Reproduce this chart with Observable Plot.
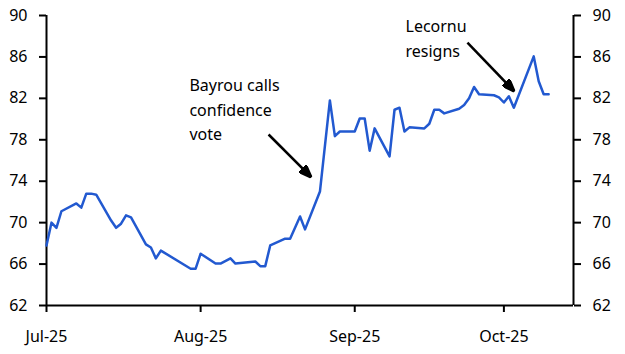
<!DOCTYPE html>
<html><head><meta charset="utf-8">
<script src="https://cdn.jsdelivr.net/npm/d3@7"></script>
<script src="https://cdn.jsdelivr.net/npm/@observablehq/plot@0.6"></script>
<style>
html,body{margin:0;padding:0;background:#fff;}
body{font-family:"Noto Sans",sans-serif;}
</style></head><body><div id="chart"></div>
<script>
// Series (business days)
const dates = [
  "2025-07-01","2025-07-02","2025-07-03","2025-07-04","2025-07-07","2025-07-08","2025-07-09","2025-07-10","2025-07-11",
  "2025-07-14","2025-07-15","2025-07-16","2025-07-17","2025-07-18","2025-07-21","2025-07-22","2025-07-23","2025-07-24",
  "2025-07-30","2025-07-31","2025-08-01","2025-08-04","2025-08-05","2025-08-07","2025-08-08","2025-08-12","2025-08-13",
  "2025-08-14","2025-08-15","2025-08-18","2025-08-19","2025-08-21","2025-08-22","2025-08-25","2025-08-27","2025-08-28",
  "2025-08-29","2025-09-01","2025-09-02","2025-09-03","2025-09-04","2025-09-05","2025-09-08","2025-09-09","2025-09-10",
  "2025-09-11","2025-09-12","2025-09-15","2025-09-16","2025-09-17","2025-09-18","2025-09-19","2025-09-22","2025-09-23",
  "2025-09-24","2025-09-25","2025-09-26","2025-09-29","2025-09-30","2025-10-01","2025-10-02","2025-10-03","2025-10-07",
  "2025-10-08","2025-10-09","2025-10-10"
];
const values = [
  67.8,70.0,69.5,71.1,71.85,71.45,72.8,72.8,72.7,
  70.2,69.5,69.9,70.7,70.5,67.9,67.6,66.55,67.3,
  65.55,65.55,67.0,66.05,66.05,66.55,66.05,66.25,65.8,
  65.8,67.8,68.45,68.45,70.6,69.35,73.0,81.8,78.35,
  78.8,78.8,80.05,80.05,76.95,79.1,76.4,80.9,81.1,
  78.8,79.2,79.1,79.55,80.9,80.9,80.55,81.0,81.35,
  82.0,83.1,82.4,82.3,82.1,81.6,82.2,81.1,86.05,
  83.65,82.4,82.4
];

// Axes
const yTicks = [62, 66, 70, 74, 78, 82, 86, 90];
const xTicks = ["2025-07-01", "2025-08-01", "2025-09-01", "2025-10-01"];
const xDomain = ["2025-07-01", "2025-10-15"];
const yDomain = [62, 90];

// Annotations
const noteText = ["Bayrou calls\nconfidence\nvote", "Lecornu\nresigns"];
const noteX = ["2025-07-29T18:00Z", "2025-09-11T05:00Z"];
const noteY = [84.34, 90.04];
const arrowX1 = ["2025-08-14T16:00Z", "2025-09-23T16:00Z"];
const arrowY1 = [78.51, 87.39];
const arrowX2 = ["2025-08-23T07:00Z", "2025-10-03T03:00Z"];
const arrowY2 = [74.36, 82.66];

const series = dates.map((d, i) => ({date: new Date(d), value: values[i]}));
const notes = noteText.map((t, i) => ({text: t, x: new Date(noteX[i]), y: noteY[i]}));
const arrows = arrowX1.map((d, i) => ({x1: new Date(d), y1: arrowY1[i], x2: new Date(arrowX2[i]), y2: arrowY2[i]}));

const arrowHead = (color) => d3.create("svg:marker")
  .attr("viewBox", "0 0 13 10")
  .attr("refX", 13).attr("refY", 5)
  .attr("markerWidth", 13).attr("markerHeight", 10)
  .attr("markerUnits", "userSpaceOnUse")
  .attr("orient", "auto")
  .call(m => m.append("path").attr("d", "M0,0L13,5L0,10Z").attr("fill", color))
  .node();

const fmt = d3.utcFormat("%b-%y");

const chart = Plot.plot({
  width: 625,
  height: 354,
  marginTop: 15,
  marginBottom: 49,
  marginLeft: 46,
  marginRight: 52,
  style: {fontFamily: "'Noto Sans', sans-serif", fontSize: "16px", color: "#000", background: "#fff", overflow: "visible"},
  x: {type: "utc", domain: xDomain.map(d => new Date(d))},
  y: {domain: yDomain},
  marks: [
    Plot.axisY(yTicks, {anchor: "left", tickSize: 7, tickPadding: 12, strokeWidth: 2, label: null, fontSize: 16}),
    Plot.axisY(yTicks, {anchor: "right", tickSize: 7, tickPadding: 12, strokeWidth: 2, label: null, fontSize: 16}),
    Plot.axisX(xTicks.map(d => new Date(d)), {tickSize: 7, tickPadding: 18, strokeWidth: 2, tickFormat: fmt, label: null, fontSize: 16}),
    Plot.ruleX(xDomain.map(d => new Date(d)), {stroke: "#000", strokeWidth: 2}),
    Plot.ruleY([yDomain[0]], {stroke: "#000", strokeWidth: 2}),
    Plot.line(series, {x: "date", y: "value", stroke: "#2259d0", strokeWidth: 2.5}),
    Plot.link(arrows, {x1: "x1", y1: "y1", x2: "x2", y2: "y2", stroke: "#000", strokeWidth: 2.5, markerEnd: arrowHead}),
    Plot.text(notes, {x: "x", y: "y", text: "text", textAnchor: "start", lineAnchor: "top", lineHeight: 1.53, fontSize: 16, fill: "#000"})
  ]
});
document.getElementById("chart").appendChild(chart);
</script>
</body></html>
